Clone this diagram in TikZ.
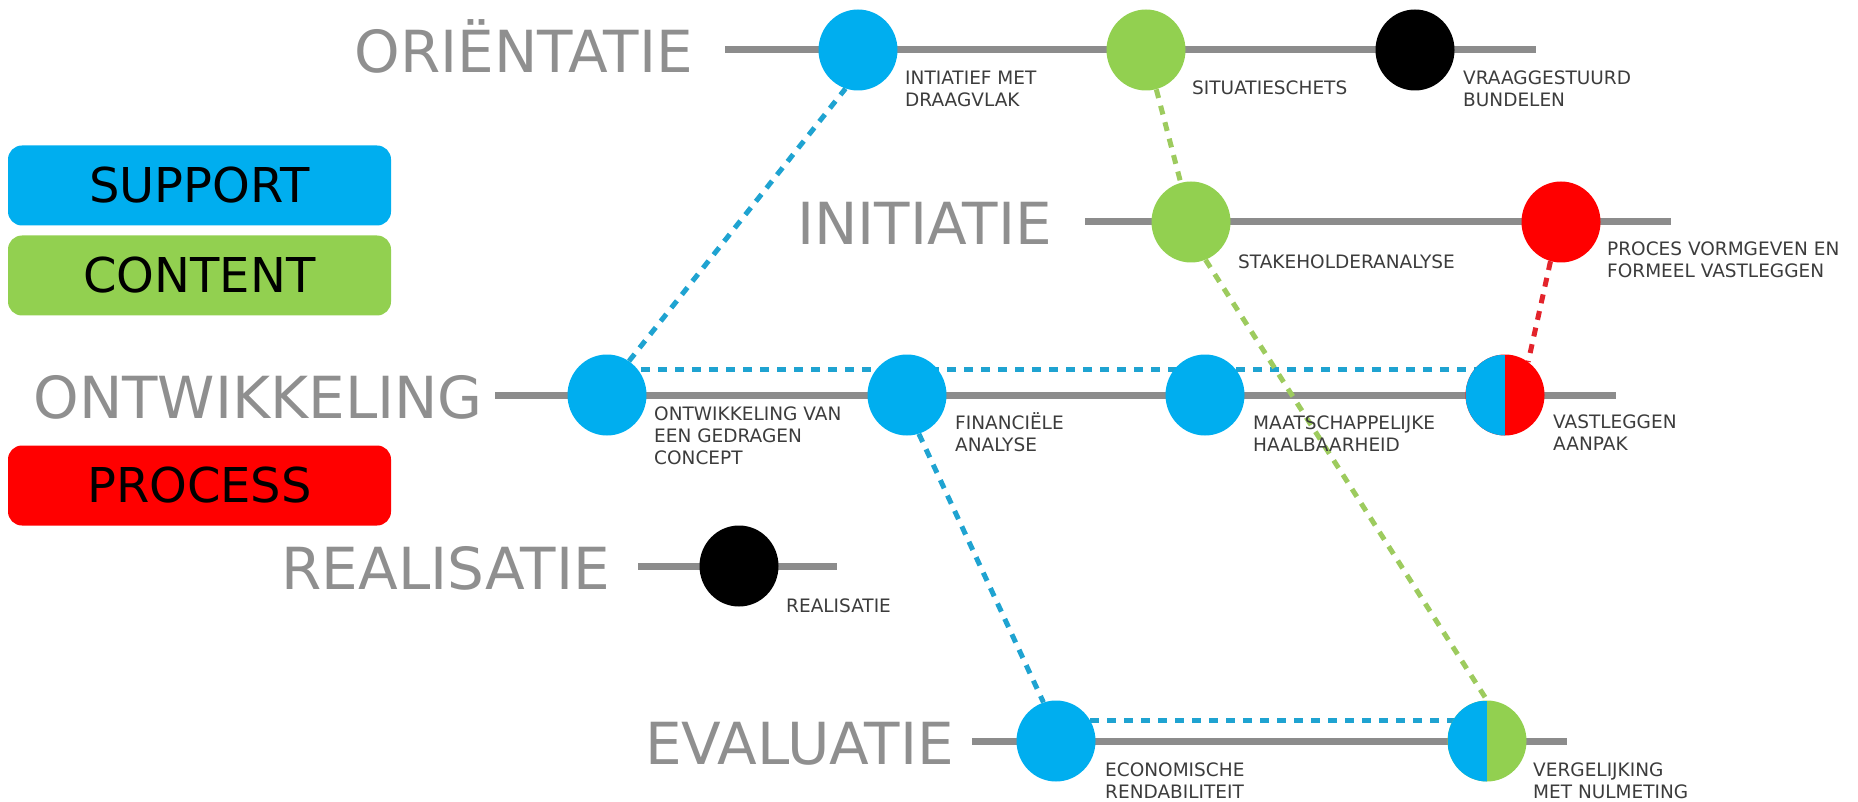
\documentclass[tikz,border=0pt]{standalone}
\usepackage{fontspec}
\setmainfont{DejaVu Sans}
\usetikzlibrary{shapes.geometric,backgrounds,calc}
\definecolor{cblue}{HTML}{00AEEF}
\definecolor{cgreen}{HTML}{92D050}
\definecolor{cred}{HTML}{FF0000}
\definecolor{lgray}{HTML}{8C8C8C}
\definecolor{tgray}{HTML}{8F8F8F}
\definecolor{dgray}{HTML}{3C3C3C}
\definecolor{dblue}{HTML}{1FA3D1}
\definecolor{dgreen}{HTML}{9DCB5E}
\definecolor{dred}{HTML}{E3232B}
\begin{document}
\begin{tikzpicture}[x=1pt,y=-1pt,
  stopdot/.style={ellipse, minimum width=79pt, minimum height=81pt, inner sep=0pt, draw=none},
  sdot/.style={stopdot, fill=cblue},
  cdot/.style={stopdot, fill=cgreen},
  pdot/.style={stopdot, fill=cred},
  kdot/.style={stopdot, fill=black},
  halfdot/.style={stopdot, fill=#1, path picture={\fill[cblue] (path picture bounding box.north west) rectangle (path picture bounding box.south);}},
  stagelbl/.style={anchor=base east, inner sep=0pt, text=tgray, font=\fontsize{58}{60}\selectfont},
  stageline/.style={draw=lgray, line width=7pt},
  lbl/.style={anchor=north west, inner sep=0pt, align=left, text=dgray, font=\fontsize{18.5}{22}\selectfont},
  legendbox/.style={rectangle, rounded corners=14pt, minimum width=383pt, minimum height=80pt, inner sep=0pt, text=black, font=\fontsize{48}{50}\selectfont},
  conn/.style={line width=5pt, dash pattern=on 9pt off 8pt}
]
\useasboundingbox (0,0) rectangle (1858,802);

% legend
\node[legendbox, fill=cblue] (lsup) at (199.5,185.5) {SUPPORT};
\node[legendbox, fill=cgreen] (lcon) at (199.5,275.5) {CONTENT};
\node[legendbox, fill=cred] (lpro) at (199.5,485.5) {PROCESS};

% stage labels
\node[stagelbl] (tori) at (693,73) {ORIËNTATIE};
\node[stagelbl] (tini) at (1052,245) {INITIATIE};
\node[stagelbl] (tont) at (483,418) {ONTWIKKELING};
\node[stagelbl] (trea) at (610,589) {REALISATIE};
\node[stagelbl] (teva) at (954,764) {EVALUATIE};

% line end points
\coordinate (oriL) at (725,50);  \coordinate (oriR) at (1536,50);
\coordinate (iniL) at (1085,222); \coordinate (iniR) at (1671,222);
\coordinate (ontL) at (495,395);  \coordinate (ontR) at (1616,395);
\coordinate (reaL) at (638,566);  \coordinate (reaR) at (837,566);
\coordinate (evaL) at (972,741);  \coordinate (evaR) at (1567,741);

% stops
\node[sdot] (o1) at (858,50) {};
\node[cdot] (o2) at (1146,50) {};
\node[kdot] (o3) at (1415,50) {};
\node[cdot] (i1) at (1191,222) {};
\node[pdot] (i2) at (1561,222) {};
\node[sdot] (d1) at (607,395) {};
\node[sdot] (d2) at (907,395) {};
\node[sdot] (d3) at (1205,395) {};
\node[halfdot=cred] (d4) at (1505,395) {};
\node[kdot] (r1) at (739,566) {};
\node[sdot] (e1) at (1056,741) {};
\node[halfdot=cgreen] (e2) at (1487,741) {};

% stop labels
\node[lbl] (l1) at (905,71) {INTIATIEF MET\\DRAAGVLAK};
\node[lbl] (l2) at (1192,81) {SITUATIESCHETS};
\node[lbl] (l3) at (1463,71) {VRAAGGESTUURD\\BUNDELEN};
\node[lbl] (l4) at (1238,255) {STAKEHOLDERANALYSE};
\node[lbl] (l5) at (1607,242) {PROCES VORMGEVEN EN\\FORMEEL VASTLEGGEN};
\node[lbl] (l6) at (654,407) {ONTWIKKELING VAN\\EEN GEDRAGEN\\CONCEPT};
\node[lbl] (l7) at (955,412) {FINANCIËLE\\ANALYSE};
\node[lbl] (l8) at (1253,416) {MAATSCHAPPELIJKE\\HAALBAARHEID};
\node[lbl] (l9) at (1553,415) {VASTLEGGEN\\AANPAK};
\node[lbl] (l10) at (786,599) {REALISATIE};
\node[lbl] (l11) at (1105,763) {ECONOMISCHE\\RENDABILITEIT};
\node[lbl] (l12) at (1533,763) {VERGELIJKING\\MET NULMETING};

\begin{scope}[on background layer]
  \draw[stageline] (oriL) -- (oriR);
  \draw[stageline] (iniL) -- (iniR);
  \draw[stageline] (ontL) -- (ontR);
  \draw[stageline] (reaL) -- (reaR);
  \draw[stageline] (evaL) -- (evaR);
  \draw[conn, dblue] ($(d1.center)+(0,-26)$) -- ($(d4.center)+(0,-26)$);
  \draw[conn, dblue] ($(e1.center)+(0,-21)$) -- ($(e2.center)+(0,-21)$);
  \draw[conn, dblue] (d1.57) -- (o1.252);
  \draw[conn, dgreen] (o2) -- (i1);
  \draw[conn, dgreen] (i1.-69) -- (e2.90);
  \draw[conn, dred] (i2.255) -- (d4.55);
  \draw[conn, dblue] (d2.-73) -- (e1.108);
\end{scope}
\end{tikzpicture}
\end{document}
